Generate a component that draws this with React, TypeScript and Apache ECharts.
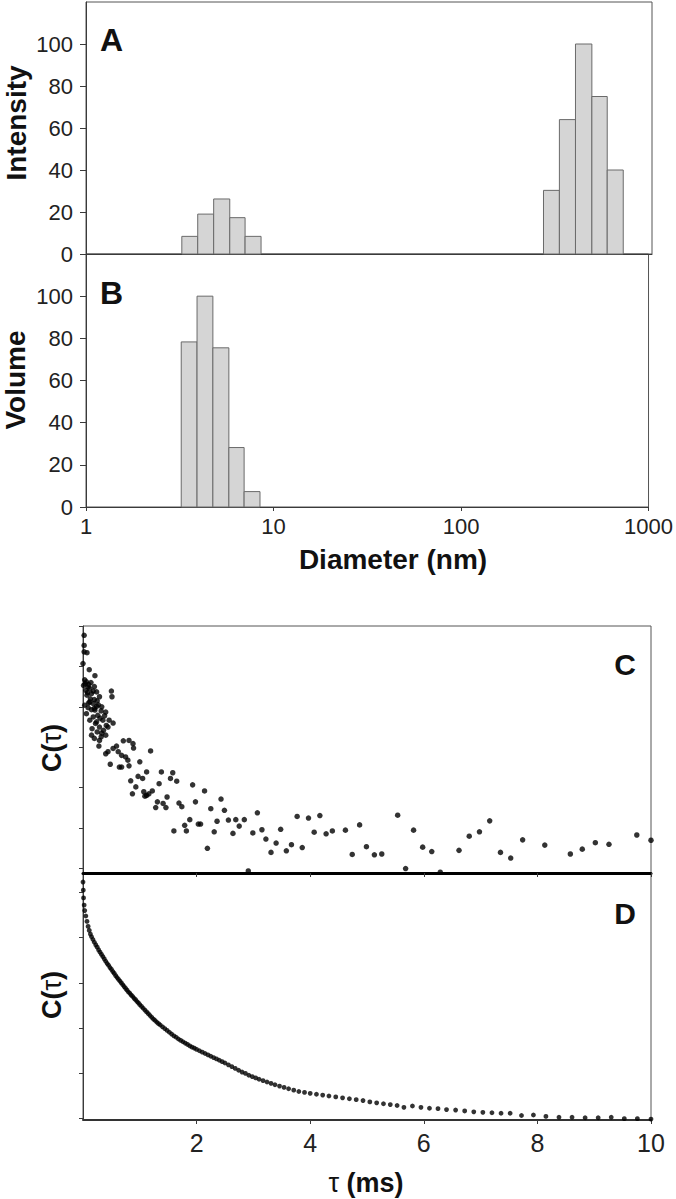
import React, { useEffect, useRef } from "react";
import * as echarts from "echarts";

// ---------- Data ----------
// Histogram bin edges (nm)
const smallEdges = [3.22, 3.91, 4.75, 5.78, 6.97, 8.47];
const largeEdges = [266, 323, 393, 480, 579, 704];
// Panel A: intensity distribution
const intensitySmall = [8.4, 19, 26.2, 17.3, 8.4];
const intensityLarge = [30.3, 64, 100, 75, 40];
// Panel B: volume distribution
const volumeSmall = [78.3, 100, 75.5, 28.2, 7.3];

const yTicksAB = [0, 20, 40, 60, 80, 100];
const diameterTicks = [1, 10, 100, 1000];
const tauTicks = [2, 4, 6, 8, 10];

// Panel C: noisy correlation function [tau (ms), C(tau) arb.]
const corrC = [
  [0.02, 5.77], [0.02, 5.52], [0.02, 5.36], [0.07, 5.34], [0.0, 5.07], [0.11, 4.92], [0.21, 4.77],
  [0.03, 4.67], [0.06, 4.62], [0.01, 4.53], [0.09, 4.49], [0.12, 4.45], [0.05, 4.41], [0.18, 4.39],
  [0.24, 4.37], [0.15, 4.33], [0.07, 4.29], [0.29, 4.25], [0.5, 4.39], [0.51, 4.25], [0.12, 4.12],
  [0.18, 4.08], [0.03, 4.04], [0.24, 4.01], [0.09, 3.98], [0.15, 3.93], [0.21, 3.92], [0.32, 3.9],
  [0.4, 3.87], [0.06, 3.83], [0.26, 3.79], [0.18, 3.75], [0.12, 3.67], [0.35, 3.67], [0.46, 3.67],
  [0.53, 3.6], [0.22, 3.59], [0.41, 3.54], [0.29, 3.5], [0.16, 3.46], [0.36, 3.42], [0.15, 3.3],
  [0.32, 3.26], [0.29, 3.17], [0.28, 3.03],
  [0.04, 4.57], [0.1, 4.55], [0.14, 4.6], [0.2, 4.5], [0.08, 4.35], [0.13, 4.2], [0.2, 4.18],
  [0.25, 4.15], [0.1, 4.1], [0.27, 4.05], [0.33, 4.0], [0.2, 3.96], [0.38, 3.78], [0.3, 3.72],
  [0.24, 3.63], [0.44, 3.5], [0.33, 3.35], [0.25, 3.38], [0.4, 3.3], [0.2, 3.22],
  [0.71, 3.16], [0.81, 3.17], [0.88, 3.09], [0.89, 2.98], [0.59, 3.03], [0.53, 2.97], [0.44, 2.89],
  [0.4, 2.84], [0.62, 2.89], [0.68, 2.8], [0.75, 2.76], [0.79, 2.68], [0.68, 2.51], [0.64, 2.51],
  [0.48, 2.58], [0.81, 2.54], [1.19, 2.91], [1.0, 2.64], [1.12, 2.39], [0.97, 2.28], [1.05, 2.23],
  [0.84, 2.17], [0.93, 2.02], [0.87, 1.85], [1.07, 1.9], [1.12, 1.81], [1.16, 1.85], [1.22, 1.92],
  [1.09, 1.79], [1.38, 2.39], [1.34, 2.1], [1.54, 2.23], [1.58, 2.37], [1.65, 2.16], [1.48, 1.77],
  [1.31, 1.65], [1.41, 1.61], [1.28, 1.51], [1.46, 1.51], [1.69, 1.62], [1.74, 1.53], [1.93, 2.07],
  [1.98, 1.65], [2.14, 1.92], [1.6, 0.93], [1.79, 1.07], [1.82, 0.93], [1.88, 1.21], [2.03, 1.1],
  [2.07, 1.1], [2.19, 0.5], [2.25, 1.48], [2.31, 0.91], [2.36, 1.17], [2.43, 1.72], [2.49, 1.44],
  [2.56, 1.2], [2.64, 0.87], [2.69, 1.21], [2.75, 1.05],
  [2.84, 1.21], [2.91, -0.06], [3.07, 1.38], [2.99, 0.88], [3.15, 0.96], [3.22, 0.73], [3.31, 0.4],
  [3.4, 0.63], [3.48, 0.97], [3.58, 0.44], [3.67, 0.59], [3.77, 1.29], [3.86, 0.52], [3.97, 1.25],
  [4.07, 0.9], [4.17, 1.31], [4.28, 0.86], [4.39, 0.93], [4.62, 0.95], [4.74, 0.35], [4.87, 1.08],
  [4.99, 0.54], [5.13, 0.34], [5.26, 0.36], [5.54, 1.32], [5.68, 0.0], [5.82, 0.95], [5.98, 0.53],
  [6.14, 0.42], [6.29, -0.09], [6.62, 0.45], [6.8, 0.8], [6.98, 0.91], [7.16, 1.18], [7.35, 0.4],
  [7.53, 0.26], [7.74, 0.71], [8.13, 0.58], [8.58, 0.36], [8.79, 0.48], [9.02, 0.64], [9.26, 0.6],
  [9.75, 0.83], [10.0, 0.7],
];

// Panel D: smooth correlation function [tau (ms), C(tau) arb.]
const corrD = [
  [0.0, 5.23], [0.005, 5.05], [0.01, 4.88], [0.02, 4.72], [0.03, 4.6], [0.05, 4.48], [0.07, 4.36],
  [0.09, 4.25], [0.11, 4.16], [0.13, 4.08], [0.15, 4.02], [0.175, 3.96], [0.2, 3.9], [0.225, 3.84],
  [0.25, 3.79], [0.275, 3.73], [0.3, 3.68], [0.325, 3.63], [0.35, 3.58], [0.375, 3.53], [0.4, 3.48],
  [0.425, 3.43], [0.45, 3.39], [0.475, 3.34], [0.5, 3.3], [0.525, 3.25], [0.55, 3.21], [0.575, 3.16],
  [0.6, 3.12], [0.625, 3.08], [0.65, 3.04], [0.675, 3.0], [0.7, 2.96], [0.725, 2.92], [0.75, 2.88],
  [0.775, 2.84], [0.8, 2.8], [0.825, 2.77], [0.85, 2.73], [0.875, 2.7], [0.9, 2.66], [0.925, 2.63],
  [0.95, 2.59], [0.975, 2.56], [1.0, 2.52], [1.03, 2.48], [1.06, 2.44], [1.09, 2.4], [1.12, 2.36],
  [1.15, 2.32], [1.18, 2.28], [1.21, 2.24], [1.24, 2.2], [1.27, 2.17], [1.3, 2.13],
  [1.33, 2.1], [1.36, 2.07], [1.4, 2.03], [1.44, 1.99], [1.48, 1.95], [1.52, 1.91], [1.56, 1.87],
  [1.6, 1.83], [1.64, 1.8], [1.68, 1.76], [1.72, 1.73], [1.76, 1.7], [1.8, 1.67], [1.84, 1.64],
  [1.88, 1.61], [1.92, 1.58], [1.96, 1.56], [2.0, 1.53], [2.05, 1.5], [2.1, 1.47], [2.15, 1.44],
  [2.2, 1.41], [2.25, 1.38], [2.3, 1.35], [2.35, 1.32], [2.4, 1.29], [2.45, 1.26], [2.5, 1.23],
  [2.56, 1.19], [2.62, 1.15], [2.68, 1.11], [2.74, 1.07], [2.8, 1.03], [2.86, 1.0], [2.92, 0.96],
  [2.98, 0.93], [3.04, 0.9], [3.1, 0.87], [3.17, 0.84], [3.24, 0.81], [3.31, 0.78], [3.38, 0.75],
  [3.46, 0.72], [3.54, 0.69], [3.62, 0.66], [3.71, 0.63], [3.8, 0.6], [3.9, 0.58], [4.0, 0.56],
  [4.11, 0.54], [4.22, 0.52], [4.33, 0.5], [4.45, 0.48], [4.57, 0.46], [4.69, 0.44], [4.81, 0.42],
  [4.93, 0.4], [5.05, 0.37], [5.17, 0.35], [5.29, 0.33], [5.41, 0.31], [5.53, 0.29], [5.65, 0.25],
  [5.8, 0.28], [5.95, 0.25], [6.1, 0.23], [6.25, 0.22], [6.4, 0.2], [6.56, 0.19], [6.72, 0.17],
  [6.88, 0.15], [7.04, 0.14], [7.2, 0.13], [7.36, 0.12], [7.52, 0.12], [7.72, 0.07], [7.93, 0.08],
  [8.15, 0.05], [8.38, 0.03], [8.61, 0.03], [8.84, 0.02], [9.07, 0.02], [9.3, 0.03], [9.53, 0.0],
  [9.76, 0.0], [10.0, -0.01],
];
const cTicks = [0, 1, 2, 3, 4, 5, 6];
const dTicks = [0, 1, 2, 3, 4, 5];

// ---------- Helpers ----------
const FONT = "Liberation Sans, Arial, Helvetica, sans-serif";
const AXIS = "#3a3a3a";
const BORDER = "#555";

function bins(edges: number[], values: number[]) {
  return values.map((v, i) => [edges[i], edges[i + 1], v]);
}

function histSeries(gridIdx: number, data: number[][]) {
  return {
    type: "custom",
    xAxisIndex: gridIdx,
    yAxisIndex: gridIdx,
    encode: { x: [0, 1], y: 2 },
    data,
    renderItem: (params: any, api: any) => {
      const p1 = api.coord([api.value(0), api.value(2)]);
      const p2 = api.coord([api.value(1), 0]);
      return {
        type: "rect",
        shape: { x: p1[0], y: p1[1], width: p2[0] - p1[0], height: p2[1] - p1[1] },
        style: { fill: "#d5d5d5", stroke: "#6a6a6a", lineWidth: 1 },
      };
    },
  };
}

const tauRich = {
  t: { fontSize: 27, fontWeight: "normal", fontFamily: FONT, fill: "#111" },
};

function textEl(text: string, x: number, y: number, size: number, opts: any = {}) {
  return {
    type: "text",
    x,
    y,
    rotation: opts.rotation || 0,
    style: {
      text,
      fontSize: size,
      fontWeight: opts.weight || "bold",
      fontFamily: FONT,
      fill: "#111",
      align: opts.align || "center",
      verticalAlign: "middle",
      rich: opts.rich,
    },
  };
}

export default function App() {
  const ref = useRef<HTMLDivElement>(null);

  useEffect(() => {
    if (!ref.current) return;
    const chart = echarts.init(ref.current, null, { renderer: "svg" });

    const gridBase = { show: true, borderColor: BORDER, borderWidth: 1, containLabel: false };

    const logAxis = (gridIndex: number, showLabels: boolean) => ({
      type: "log",
      logBase: 10,
      gridIndex,
      min: 1,
      max: 1000,
      axisLine: { show: true, lineStyle: { color: AXIS, width: 1 } },
      axisTick: {
        show: showLabels,
        length: 4,
        lineStyle: { color: AXIS },
        customValues: diameterTicks,
      },
      minorTick: { show: false },
      axisLabel: {
        show: showLabels,
        fontSize: 22,
        fontFamily: FONT,
        color: "#222",
        margin: 8,
        customValues: diameterTicks,
        formatter: (v: number) => String(Math.round(v)),
      },
      splitLine: { show: false },
    });

    const abYAxis = (gridIndex: number) => ({
      type: "value",
      gridIndex,
      min: 0,
      max: 120,
      interval: 20,
      axisLine: { show: true, lineStyle: { color: AXIS, width: 1 } },
      axisTick: { show: true, length: 6, lineStyle: { color: AXIS }, customValues: yTicksAB },
      axisLabel: {
        fontSize: 22,
        fontFamily: FONT,
        color: "#222",
        margin: 13,
        customValues: yTicksAB,
        formatter: (v: number) => (v > 100 ? "" : String(v)),
      },
      splitLine: { show: false },
    });

    const tauAxis = (gridIndex: number, showLabels: boolean, lineWidth: number, lineColor: string) => ({
      type: "value",
      gridIndex,
      min: 0,
      max: 10,
      interval: 2,
      axisLine: { show: true, onZero: false, lineStyle: { color: lineColor, width: lineWidth } },
      axisTick: { show: true, length: 4, lineStyle: { color: AXIS }, customValues: tauTicks },
      axisLabel: {
        show: showLabels,
        fontSize: 25,
        fontFamily: FONT,
        color: "#222",
        margin: 10,
        customValues: tauTicks,
        formatter: (v: number) => (v === 0 ? "" : String(v)),
      },
      splitLine: { show: false },
    });

    const corrYAxis = (gridIndex: number, min: number, max: number, ticks: number[]) => ({
      type: "value",
      gridIndex,
      min,
      max,
      axisLine: { show: true, onZero: false, lineStyle: { color: AXIS, width: 1 } },
      axisTick: { show: true, length: 4, lineStyle: { color: AXIS }, customValues: ticks },
      axisLabel: { show: false },
      splitLine: { show: false },
    });

    const option: any = {
      animation: false,
      backgroundColor: "#fff",
      grid: [
        { ...gridBase, left: 86, top: 2, width: 566, height: 252 },
        { ...gridBase, left: 86, top: 254, width: 566, height: 253 },
        { ...gridBase, left: 83, top: 626, width: 568, height: 247 },
        { ...gridBase, left: 83, top: 873, width: 568, height: 247 },
      ],
      xAxis: [
        logAxis(0, false),
        logAxis(1, true),
        tauAxis(2, false, 3, "#000"),
        tauAxis(3, true, 2, "#333"),
      ],
      yAxis: [
        abYAxis(0),
        abYAxis(1),
        corrYAxis(2, -0.11, 6, cTicks),
        corrYAxis(3, -0.03, 5.43, dTicks),
      ],
      series: [
        histSeries(0, bins(smallEdges, intensitySmall)),
        histSeries(0, bins(largeEdges, intensityLarge)),
        histSeries(1, bins(smallEdges, volumeSmall)),
        {
          type: "scatter",
          xAxisIndex: 2,
          yAxisIndex: 2,
          data: corrC,
          symbol: "circle",
          symbolSize: 5.5,
          itemStyle: { color: "#000" },
          clip: false,
        },
        {
          type: "scatter",
          xAxisIndex: 3,
          yAxisIndex: 3,
          data: corrD,
          symbol: "circle",
          symbolSize: 4.8,
          itemStyle: { color: "#000" },
          clip: false,
        },
      ],
      graphic: [
        textEl("A", 100, 40, 32, { align: "left" }),
        textEl("B", 100, 293, 32, { align: "left" }),
        textEl("C", 636, 664, 30, { align: "right" }),
        textEl("D", 636, 913, 30, { align: "right" }),
        textEl("Intensity", 16, 123, 28, { rotation: Math.PI / 2 }),
        textEl("Volume", 15, 380, 28, { rotation: Math.PI / 2 }),
        textEl("Diameter (nm)", 393, 559, 28),
        textEl("C({t|τ})", 52, 748, 27, { rotation: Math.PI / 2, rich: tauRich }),
        textEl("C({t|τ})", 52, 995, 27, { rotation: Math.PI / 2, rich: tauRich }),
        textEl("{t|τ} (ms)", 366, 1183, 27, { rich: tauRich }),
      ],
    };

    chart.setOption(option);
    return () => chart.dispose();
  }, []);

  return (
    <div
      ref={ref}
      style={{ position: "absolute", left: 0, top: 0, width: 676, height: 1199 }}
    />
  );
}
